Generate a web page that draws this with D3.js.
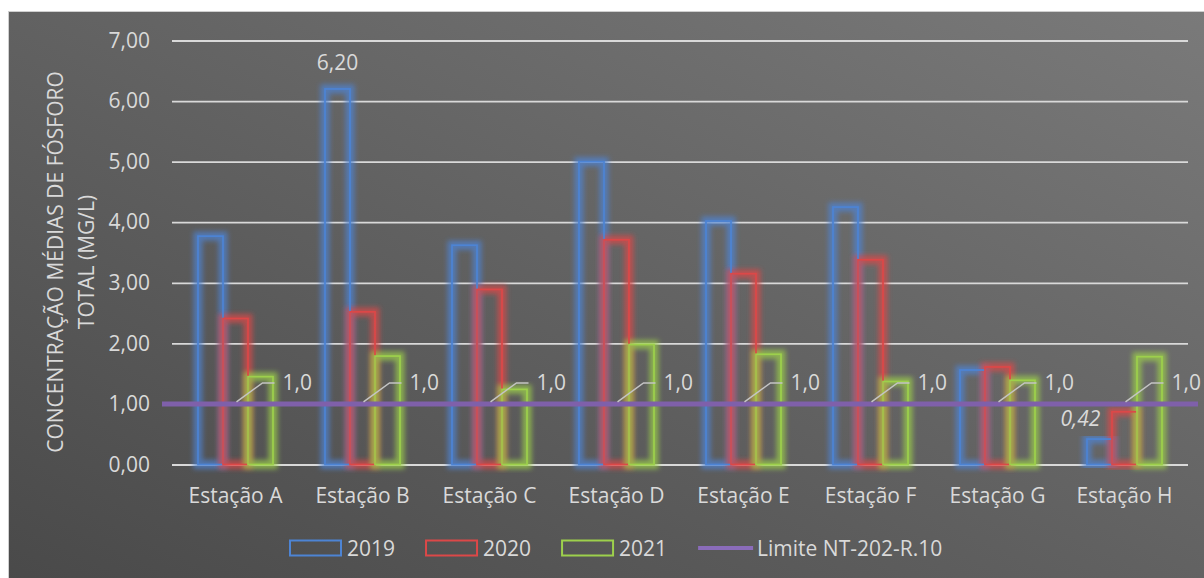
<!DOCTYPE html>
<html>
<head>
<meta charset="utf-8">
<script src="https://cdn.jsdelivr.net/npm/d3@7"></script>
<style>
  html, body { margin: 0; padding: 0; background: #ffffff; }
  svg { display: block; font-family: "Open Sans", "Noto Sans", sans-serif; }
</style>
</head>
<body>
<script>
// Monitoring stations and yearly mean total-phosphorus concentrations (mg/L)
const categories = ["Estação A", "Estação B", "Estação C", "Estação D", "Estação E", "Estação F", "Estação G", "Estação H"];
const seriesNames = ["2019", "2020", "2021"];
const values2019 = [3.77, 6.20, 3.62, 5.00, 4.02, 4.25, 1.56, 0.42];
const values2020 = [2.41, 2.52, 2.89, 3.71, 3.15, 3.38, 1.61, 0.87];
const values2021 = [1.45, 1.79, 1.24, 1.98, 1.82, 1.37, 1.39, 1.78];
const limitName = "Limite NT-202-R.10";
const limitValues = [1.0, 1.0, 1.0, 1.0, 1.0, 1.0, 1.0, 1.0];
const yTickValues = [0, 1, 2, 3, 4, 5, 6, 7];
const yTickLabels = ["0,00", "1,00", "2,00", "3,00", "4,00", "5,00", "6,00", "7,00"];
const yTitleLines = ["CONCENTRAÇÃO MÉDIAS DE FÓSFORO", "TOTAL (MG/L)"];
// 2019 bars that carry a value label
const labelled2019 = ["Estação B", "Estação H"];

const seriesValues = [values2019, values2020, values2021];
const seriesColors = ["#4d84d4", "#dc4848", "#9dd04c"];
const limitColor = "#7f60aa";
const textColor = "#d9d9d9";
const fontSize = 21;

const W = 1204, H = 578;
const plot = { left: 172, right: 1188, top: 40.5, bottom: 464.5 };

const svg = d3.select("body").append("svg").attr("width", W).attr("height", H);
const defs = svg.append("defs");

const grad = defs.append("linearGradient").attr("id", "bg")
  .attr("x1", 1).attr("y1", 0).attr("x2", 0).attr("y2", 1);
grad.append("stop").attr("offset", 0).attr("stop-color", "#7a7a7a");
grad.append("stop").attr("offset", 1).attr("stop-color", "#494949");

const glow = defs.append("filter").attr("id", "glow")
  .attr("x", "-60%").attr("y", "-10%").attr("width", "220%").attr("height", "120%");
glow.append("feGaussianBlur").attr("stdDeviation", 2.4);

const shadow = defs.append("filter").attr("id", "shadow")
  .attr("x", "-5%").attr("y", "-200%").attr("width", "110%").attr("height", "500%");
shadow.append("feGaussianBlur").attr("stdDeviation", 1.3);

// chart area
svg.append("rect")
  .attr("x", 8.5).attr("y", 11.5)
  .attr("width", W).attr("height", H)
  .attr("fill", "url(#bg)")
  .attr("stroke", "#cfcfcf").attr("stroke-width", 1);

const x = d3.scaleBand().domain(categories).range([plot.left, plot.right]);
const groupWidth = 75;
const inner = d3.scaleBand().domain(seriesNames)
  .range([x.bandwidth() / 2 - groupWidth / 2, x.bandwidth() / 2 + groupWidth / 2]);
const y = d3.scaleLinear().domain([0, 7]).range([plot.bottom, plot.top]);

// value axis with gridlines
const yAxis = svg.append("g")
  .attr("transform", `translate(${plot.left},0)`)
  .call(d3.axisLeft(y)
    .tickValues(yTickValues)
    .tickFormat((d, i) => yTickLabels[i])
    .tickSize(-(plot.right - plot.left))
    .tickPadding(22));
yAxis.select(".domain").remove();
yAxis.selectAll(".tick line").attr("stroke", "#d9d9d9").attr("stroke-width", 1.8);
yAxis.selectAll(".tick text")
  .attr("fill", textColor).attr("font-size", fontSize)
  .attr("font-family", "'Open Sans', sans-serif");

// category axis labels
const xAxis = svg.append("g")
  .attr("transform", `translate(0,${plot.bottom})`)
  .call(d3.axisBottom(x).tickSize(0));
xAxis.select(".domain").remove();
xAxis.selectAll(".tick text")
  .attr("dy", null).attr("y", 38.5)
  .attr("fill", textColor).attr("font-size", fontSize)
  .attr("font-family", "'Open Sans', sans-serif");

// bars: soft glow under a thin coloured outline
const barData = [];
categories.forEach((c, i) => {
  seriesNames.forEach((s, j) => {
    barData.push({ cat: c, series: s, value: seriesValues[j][i], color: seriesColors[j] });
  });
});

const bars = svg.append("g");
bars.selectAll("rect.glow").data(barData).join("rect")
  .attr("class", "glow")
  .attr("x", d => x(d.cat) + inner(d.series))
  .attr("y", d => y(d.value))
  .attr("width", inner.bandwidth())
  .attr("height", d => y(0) - y(d.value))
  .attr("fill", "none")
  .attr("stroke", d => d.color)
  .attr("stroke-width", 9)
  .attr("stroke-opacity", 0.72)
  .attr("filter", "url(#glow)");
bars.selectAll("rect.edge").data(barData).join("rect")
  .attr("class", "edge")
  .attr("x", d => x(d.cat) + inner(d.series))
  .attr("y", d => y(d.value))
  .attr("width", inner.bandwidth())
  .attr("height", d => y(0) - y(d.value))
  .attr("fill", "none")
  .attr("stroke", d => d.color)
  .attr("stroke-width", 1.7);

// limit line, running a little past the plot edges
const limitPts = categories.map((c, i) => [x(c) + x.bandwidth() / 2, y(limitValues[i])]);
const linePts = [[plot.left - 10, y(limitValues[0])], ...limitPts, [plot.right + 10, y(limitValues[limitValues.length - 1])]];
const line = d3.line();
svg.append("path")
  .attr("d", line(linePts))
  .attr("transform", "translate(0,2.5)")
  .attr("fill", "none").attr("stroke", "#202020").attr("stroke-opacity", 0.55)
  .attr("stroke-width", 4).attr("filter", "url(#shadow)");
svg.append("path")
  .attr("d", line(linePts))
  .attr("fill", "none").attr("stroke", limitColor).attr("stroke-width", 5);

// limit labels with leader lines
const fmt1 = v => d3.format(".1f")(v).replace(".", ",");
const fmt2 = v => d3.format(".2f")(v).replace(".", ",");
const leaders = svg.append("g");
limitPts.forEach(([cx, cy], i) => {
  leaders.append("path")
    .attr("d", `M${cx + 1},${cy - 2} L${cx + 27},${cy - 21} L${cx + 39},${cy - 21}`)
    .attr("fill", "none").attr("stroke", "#c4c4c4").attr("stroke-width", 1.5);
  leaders.append("text")
    .attr("x", cx + 47).attr("y", cy - 13.5)
    .attr("fill", textColor).attr("font-size", fontSize)
    .text(fmt1(limitValues[i]));
});

// value labels on selected 2019 bars
labelled2019.forEach(c => {
  const i = categories.indexOf(c);
  const v = values2019[i];
  const bx = x(c) + inner("2019") + inner.bandwidth() / 2;
  const by = y(v);
  const moved = c === "Estação H";
  svg.append("text")
    .attr("x", moved ? bx - 19 : bx)
    .attr("y", moved ? by - 13 : by - 19)
    .attr("text-anchor", "middle")
    .attr("font-style", moved ? "italic" : "normal")
    .attr("fill", textColor).attr("font-size", fontSize)
    .text(fmt2(v));
});

// axis title
const titleBaselines = [63, 94];
yTitleLines.forEach((t, k) => {
  svg.append("text")
    .attr("transform", `translate(${titleBaselines[k]},262) rotate(-90)`)
    .attr("text-anchor", "middle")
    .attr("fill", textColor).attr("font-size", fontSize)
    .text(t);
});

// legend
const legend = svg.append("g");
const legendY = 548;
let lx = 290;
seriesNames.forEach((s, j) => {
  legend.append("rect")
    .attr("x", lx).attr("y", legendY - 7.5)
    .attr("width", 51).attr("height", 15)
    .attr("fill", "none").attr("stroke", seriesColors[j]).attr("stroke-width", 2);
  const t = legend.append("text")
    .attr("x", lx + 57).attr("y", legendY + 7.5)
    .attr("fill", textColor).attr("font-size", fontSize)
    .text(s);
  lx += 57 + t.node().getComputedTextLength() + 31;
});
legend.append("line")
  .attr("x1", lx).attr("x2", lx + 55)
  .attr("y1", legendY).attr("y2", legendY)
  .attr("stroke", "#8a6cba").attr("stroke-width", 4);
legend.append("text")
  .attr("x", lx + 59).attr("y", legendY + 7.5)
  .attr("fill", textColor).attr("font-size", fontSize)
  .text(limitName);
</script>
</body>
</html>
